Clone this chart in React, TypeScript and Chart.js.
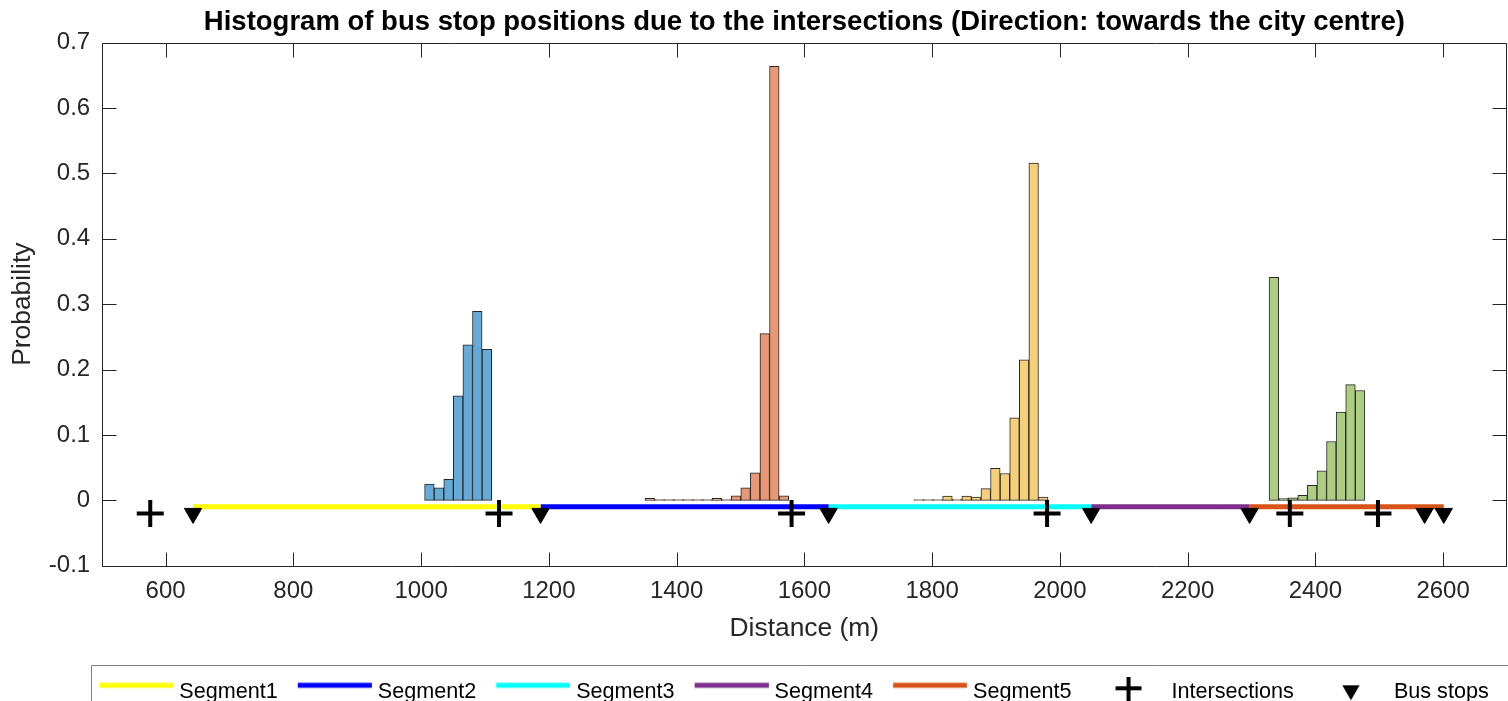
import React, { useEffect, useRef } from 'react';
import { Chart, registerables } from 'chart.js';

Chart.register(...registerables);

const FONT = "'Liberation Sans', Arial, Helvetica, sans-serif";

const titleText =
  'Histogram of bus stop positions due to the intersections (Direction: towards the city centre)';
const xAxisTitle = 'Distance (m)';
const yAxisTitle = 'Probability';

const xTicks = [600, 800, 1000, 1200, 1400, 1600, 1800, 2000, 2200, 2400, 2600];
const yTicks = [-0.1, 0, 0.1, 0.2, 0.3, 0.4, 0.5, 0.6, 0.7];
const xMin = 500;
const xMax = 2700;
const yMin = -0.1;
const yMax = 0.7;

// Histogram bins (centres in m) and probabilities
const hist1Centers = [1013, 1028, 1043, 1058, 1073, 1088, 1103];
const hist1Values = [0.025, 0.019, 0.032, 0.16, 0.238, 0.289, 0.231];

const hist2Centers = [1358, 1373, 1388, 1403, 1418, 1433, 1448, 1463, 1478, 1493, 1508, 1523, 1538, 1553, 1568];
const hist2Values = [0.003, 0.001, 0.001, 0.001, 0.001, 0.001, 0.001, 0.003, 0.001, 0.007, 0.019, 0.042, 0.255, 0.664, 0.007];

const hist3Centers = [1779, 1794, 1809, 1824, 1839, 1854, 1869, 1884, 1899, 1914, 1929, 1944, 1959, 1974];
const hist3Values = [0.001, 0.001, 0.001, 0.0066, 0.0015, 0.0066, 0.005, 0.018, 0.049, 0.041, 0.126, 0.215, 0.516, 0.005];

const hist4Centers = [2335, 2350, 2365, 2380, 2395, 2410, 2425, 2440, 2455, 2470];
const hist4Values = [0.341, 0.0025, 0.004, 0.0077, 0.023, 0.045, 0.09, 0.135, 0.177, 0.168];

const histColors = ['#66AAD7', '#E89875', '#F4D079', '#ADCD83'];

// Road segments
const segmentLabels = ['Segment1', 'Segment2', 'Segment3', 'Segment4', 'Segment5'];
const segmentStarts = [643, 1187, 1638, 2049, 2297];
const segmentEnds = [1187, 1638, 2049, 2297, 2601];
const segmentColors = ['#FFFF00', '#0000FF', '#00FFFF', '#7E2F8E', '#D95319'];
const segmentLevel = -0.01;

// Markers
const intersectionX = [576, 1122, 1580, 1980, 2360, 2498];
const busStopX = [643, 1187, 1638, 2049, 2297, 2571, 2601];
const markerLevel = -0.02;
const intersectionLabel = 'Intersections';
const busStopLabel = 'Bus stops';

const LEGEND_LEFT = 79.3;
const LEGEND_TOP = 661.5;

function makeToken(draw: (ctx: CanvasRenderingContext2D) => void): HTMLCanvasElement {
  const c = document.createElement('canvas');
  c.width = 79;
  c.height = 30;
  const ctx = c.getContext('2d') as CanvasRenderingContext2D;
  draw(ctx);
  return c;
}

const matlabBox = {
  id: 'matlabBox',
  afterLayout(chart: any) {
    const lg = chart.legend;
    if (lg) {
      lg.left = LEGEND_LEFT;
      lg.right = LEGEND_LEFT + 3000;
      lg.top = LEGEND_TOP;
      lg.bottom = LEGEND_TOP + lg.height;
    }
  },
  afterDraw(chart: any) {
    const ctx = chart.ctx;
    const { left, right, top, bottom } = chart.chartArea;
    const L = Math.round(left) + 0.5;
    const R = Math.round(right) - 0.5;
    const T = Math.round(top) + 0.5;
    const B = Math.round(bottom) + 0.5;
    const tl = 14;
    ctx.save();
    ctx.strokeStyle = '#262626';
    ctx.lineWidth = 1;
    ctx.beginPath();
    ctx.rect(L, T, R - L, B - T);
    const xs = chart.scales.x;
    const ys = chart.scales.y;
    xs.ticks.forEach((t: any) => {
      const px = Math.round(xs.getPixelForValue(t.value)) + 0.5;
      ctx.moveTo(px, B);
      ctx.lineTo(px, B - tl);
      ctx.moveTo(px, T);
      ctx.lineTo(px, T + tl);
    });
    ys.ticks.forEach((t: any) => {
      const py = Math.round(ys.getPixelForValue(t.value)) + 0.5;
      ctx.moveTo(L, py);
      ctx.lineTo(L + tl, py);
      ctx.moveTo(R, py);
      ctx.lineTo(R - tl, py);
    });
    ctx.stroke();
    // legend frame
    ctx.strokeStyle = '#808080';
    ctx.beginPath();
    ctx.rect(91.5, 665.5, 1500, 80);
    ctx.stroke();
    ctx.restore();
  },
};

export default function App() {
  const ref = useRef<HTMLCanvasElement>(null);

  useEffect(() => {
    const canvas = ref.current as HTMLCanvasElement;

    const lineToken = (color: string) =>
      makeToken((ctx) => {
        ctx.strokeStyle = color;
        ctx.lineWidth = 5;
        ctx.beginPath();
        ctx.moveTo(4.9, 8);
        ctx.lineTo(78.9, 8);
        ctx.stroke();
      });
    const plusToken = makeToken((ctx) => {
      ctx.strokeStyle = '#000';
      ctx.lineWidth = 4;
      ctx.beginPath();
      ctx.moveTo(41.9 - 13, 11);
      ctx.lineTo(41.9 + 13, 11);
      ctx.moveTo(41.9, 11 - 13);
      ctx.lineTo(41.9, 11 + 13);
      ctx.stroke();
    });
    const triToken = makeToken((ctx) => {
      const cx = 41.9;
      const cy = 13;
      const r = 10;
      ctx.fillStyle = '#000';
      ctx.beginPath();
      ctx.moveTo(cx, cy + r);
      ctx.lineTo(cx - r * Math.sin(Math.PI / 3), cy - r / 2);
      ctx.lineTo(cx + r * Math.sin(Math.PI / 3), cy - r / 2);
      ctx.closePath();
      ctx.fill();
    });

    const legendItems: any[] = [
      ...segmentLabels.map((label, i) => ({
        text: label,
        pointStyle: lineToken(segmentColors[i]),
        fillStyle: segmentColors[i],
        strokeStyle: segmentColors[i],
        lineWidth: 0,
        hidden: false,
        datasetIndex: 4 + i,
        fontColor: '#000',
      })),
      {
        text: intersectionLabel,
        pointStyle: plusToken,
        fillStyle: '#000',
        strokeStyle: '#000',
        lineWidth: 0,
        hidden: false,
        datasetIndex: 9,
        fontColor: '#000',
      },
      {
        text: busStopLabel,
        pointStyle: triToken,
        fillStyle: '#000',
        strokeStyle: '#000',
        lineWidth: 0,
        hidden: false,
        datasetIndex: 10,
        fontColor: '#000',
      },
    ];

    const histCenters = [hist1Centers, hist2Centers, hist3Centers, hist4Centers];
    const histValues = [hist1Values, hist2Values, hist3Values, hist4Values];

    const barSets = histCenters.map((centers, k) => ({
      type: 'bar' as const,
      label: 'Histogram ' + (k + 1),
      data: centers.map((x, i) => ({ x, y: histValues[k][i] })),
      backgroundColor: histColors[k],
      borderColor: '#262626',
      borderWidth: 1,
      borderSkipped: false,
      barPercentage: 1,
      categoryPercentage: 1,
      grouped: false,
      order: 3,
    }));

    const segSets = segmentLabels.map((label, i) => ({
      type: 'line' as const,
      label,
      data: [
        { x: segmentStarts[i], y: segmentLevel },
        { x: segmentEnds[i], y: segmentLevel },
      ],
      borderColor: segmentColors[i],
      backgroundColor: segmentColors[i],
      borderWidth: 5,
      pointRadius: 0,
      fill: false,
      order: 2,
    }));

    const interSet = {
      type: 'scatter' as const,
      label: intersectionLabel,
      data: intersectionX.map((x) => ({ x, y: markerLevel })),
      pointStyle: 'cross',
      pointRadius: 13.5,
      pointBorderWidth: 4,
      pointBorderColor: '#000',
      pointBackgroundColor: '#000',
      showLine: false,
      order: 1,
    };

    const busSet = {
      type: 'scatter' as const,
      label: busStopLabel,
      data: busStopX.map((x) => ({ x, y: markerLevel })),
      pointStyle: 'triangle',
      pointRotation: 180,
      pointRadius: 10,
      pointBorderWidth: 1,
      pointBorderColor: '#000',
      pointBackgroundColor: '#000',
      showLine: false,
      order: 1,
    };

    const chart = new Chart(canvas, {
      type: 'bar',
      data: { datasets: [...barSets, ...segSets, interSet, busSet] as any },
      options: {
        responsive: false,
        animation: false,
        devicePixelRatio: 1,
        layout: { autoPadding: false, padding: { left: 0, right: 1, top: 0, bottom: 0 } },
        scales: {
          x: {
            type: 'linear',
            min: xMin,
            max: xMax,
            offset: false,
            grid: { display: false, drawTicks: false, tickLength: 0 },
            border: { display: false },
            afterBuildTicks: (scale: any) => {
              scale.ticks = xTicks.map((v) => ({ value: v }));
            },
            afterFit: (scale: any) => {
              const lgH = scale.chart.legend ? scale.chart.legend.height : 0;
              scale.height = scale.chart.height - 565.7 - lgH;
              scale.paddingLeft = 0;
              scale.paddingRight = 0;
            },
            ticks: {
              autoSkip: false,
              maxRotation: 0,
              padding: 11.5,
              color: '#262626',
              font: { size: 24, family: FONT },
              callback: (v: any) => String(v),
            },
            title: {
              display: true,
              text: xAxisTitle,
              color: '#262626',
              font: { size: 26.4, family: FONT },
              padding: { top: 0, bottom: 4.6 },
            },
          },
          y: {
            type: 'linear',
            min: yMin,
            max: yMax,
            grid: { display: false, drawTicks: false, tickLength: 0 },
            border: { display: false },
            afterBuildTicks: (scale: any) => {
              scale.ticks = yTicks.map((v) => ({ value: v }));
            },
            afterFit: (scale: any) => {
              scale.width = 101.7;
            },
            ticks: {
              padding: 11.5,
              color: '#262626',
              font: { size: 24, family: FONT },
              callback: (v: any) => String(Number(Number(v).toFixed(1))),
            },
            title: {
              display: true,
              text: yAxisTitle,
              color: '#262626',
              font: { size: 26.4, family: FONT },
              padding: { top: 7.2, bottom: 0 },
            },
          },
        },
        plugins: {
          title: {
            display: true,
            text: titleText,
            fullSize: false,
            color: '#000',
            font: { size: 27.5, weight: 'bold', family: FONT },
            padding: { top: 6.0, bottom: 3.7 },
          },
          legend: {
            display: true,
            position: 'bottom',
            align: 'start',
            fullSize: true,
            onClick: () => {},
            labels: {
              usePointStyle: true,
              pointStyleWidth: 69.2,
              padding: 20,
              color: '#000',
              font: { size: 21.6, family: FONT },
              generateLabels: () => legendItems,
            },
          },
          tooltip: { enabled: false },
        },
      } as any,
      plugins: [matlabBox],
    });

    return () => chart.destroy();
  }, []);

  return (
    <div
      style={{
        position: 'fixed',
        left: 0,
        top: 0,
        width: 1508,
        height: 701,
        overflow: 'hidden',
        background: '#fff',
      }}
    >
      <canvas ref={ref} width={1508} height={701} style={{ display: 'block' }} />
    </div>
  );
}
